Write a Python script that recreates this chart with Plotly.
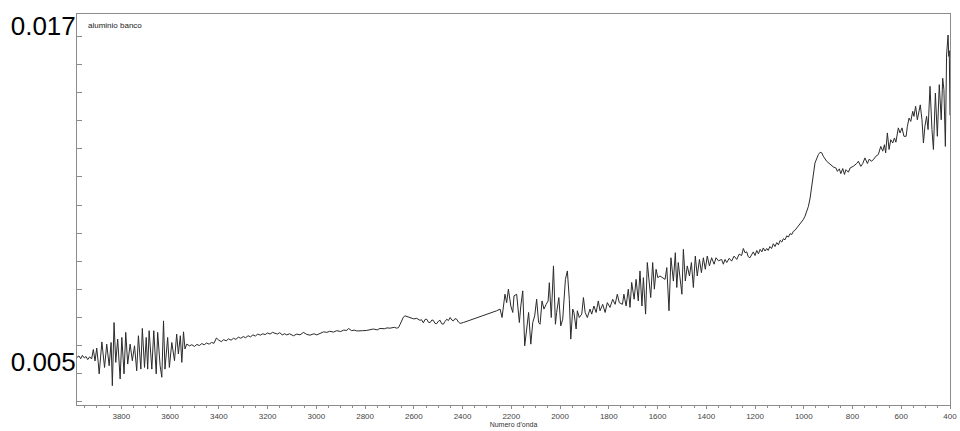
import plotly.graph_objects as go

# Spettro IR: numero d'onda (cm-1) e assorbanza
wavenumber = [
    3982, 3974, 3967, 3960, 3952, 3945, 3938, 3930, 3922, 3915, 3908, 3901, 3895,
    3891, 3880, 3869, 3860, 3850, 3842, 3837, 3830, 3823, 3815, 3805, 3798, 3789,
    3782, 3774, 3764, 3755, 3746, 3737, 3730, 3720, 3714, 3705, 3698, 3692, 3686,
    3675, 3667, 3657, 3651, 3641, 3634, 3627, 3621, 3610, 3603, 3593, 3582, 3573,
    3566, 3558, 3552, 3545, 3539, 3532,
    3520, 3511, 3500, 3490, 3480, 3470, 3460, 3450, 3440, 3430, 3420, 3410, 3400,
    3390, 3380, 3370, 3360, 3350, 3340, 3330, 3320, 3310, 3300, 3290, 3280, 3270,
    3260, 3250, 3240, 3230, 3220, 3210, 3200, 3190, 3180, 3170, 3160, 3150, 3140,
    3130,
    3121, 3110, 3094, 3080, 3067, 3053, 3040, 3026, 3010, 2998, 2985, 2970, 2957,
    2945, 2930, 2916, 2900, 2888, 2875, 2868, 2855, 2845, 2834, 2820, 2810, 2793,
    2780, 2766, 2750, 2739, 2720, 2710, 2698, 2680, 2670, 2663, 2656, 2650, 2643,
    2636, 2625, 2615, 2600, 2588, 2575, 2568, 2561, 2554, 2547, 2540, 2533, 2526,
    2520, 2513, 2506, 2499, 2492, 2486, 2479, 2472, 2465, 2458, 2451, 2444, 2438,
    2431, 2424, 2417, 2410, 2397, 2350, 2300, 2260, 2246,
    2238, 2226, 2219, 2212, 2202, 2194, 2189, 2178, 2172, 2167, 2161, 2153, 2145,
    2137, 2129, 2120, 2112, 2104, 2096, 2088, 2082, 2074, 2066, 2057, 2049, 2044,
    2036, 2027, 2019, 2014, 2005, 1997, 1989, 1978, 1970, 1962, 1956, 1948, 1943,
    1934, 1929, 1921, 1911, 1904, 1897, 1888, 1877, 1870, 1861, 1852, 1843, 1836,
    1825, 1815, 1806, 1795, 1784, 1774, 1765, 1757,
    1744, 1738, 1729, 1720, 1713, 1706, 1696, 1688, 1679, 1672, 1664, 1658, 1649,
    1642, 1634, 1628, 1620, 1613, 1606, 1599, 1590, 1579, 1569, 1562, 1553, 1545,
    1535, 1527, 1521, 1515, 1508, 1500, 1494, 1486, 1478, 1469, 1461, 1453, 1445,
    1437, 1428, 1420, 1412, 1404, 1396, 1387, 1378, 1368, 1360, 1350,
    1337, 1330, 1323, 1316, 1306, 1296, 1286, 1275, 1265, 1255, 1248, 1241, 1234,
    1228, 1221, 1214, 1207, 1200, 1193, 1186, 1179, 1172, 1166, 1159, 1152, 1146,
    1139, 1132, 1125, 1118, 1111, 1104, 1097, 1090, 1084, 1077, 1070, 1063, 1056,
    1049, 1043, 1036, 1029, 1022, 1015, 1008, 1002, 995, 988, 981, 974,
    967, 961, 954, 940, 933, 926, 920, 906, 892, 879, 868, 862, 854, 848, 840, 833,
    827, 817, 810, 797, 783, 776, 766, 758, 749, 739, 731, 723, 714, 704, 694, 684,
    676, 669, 664, 657, 650, 643, 635, 628, 622, 612, 605, 597, 589, 580, 575, 568,
    561, 553, 548, 541, 534, 528, 522, 515, 509, 503, 496, 490, 482, 474, 468, 460,
    452, 444, 436, 430, 425, 419, 414, 408, 405, 403, 400,
]

absorbance = [
    0.00517, 0.00522, 0.00512, 0.00524, 0.00515, 0.00520, 0.00509, 0.00519, 0.00511, 0.00545, 0.00504, 0.00550, 0.00500,
    0.00458, 0.00572, 0.00481, 0.00564, 0.00487, 0.00570, 0.00416, 0.00641, 0.00499, 0.00582, 0.00440, 0.00588, 0.00458,
    0.00606, 0.00493, 0.00564, 0.00505, 0.00558, 0.00469, 0.00594, 0.00475, 0.00620, 0.00481, 0.00588, 0.00475, 0.00612,
    0.00475, 0.00612, 0.00458, 0.00606, 0.00487, 0.00446, 0.00647, 0.00475, 0.00588, 0.00481, 0.00570, 0.00505, 0.00600,
    0.00529, 0.00594, 0.00499, 0.00608, 0.00547, 0.00564,
    0.00558, 0.00562, 0.00556, 0.00563, 0.00559, 0.00566, 0.00562, 0.00568, 0.00564, 0.00570, 0.00567, 0.00586, 0.00578,
    0.00573, 0.00580, 0.00576, 0.00583, 0.00578, 0.00585, 0.00581, 0.00589, 0.00585, 0.00591, 0.00587, 0.00594, 0.00590,
    0.00597, 0.00593, 0.00600, 0.00596, 0.00601, 0.00598, 0.00604, 0.00600, 0.00606, 0.00603, 0.00600, 0.00605, 0.00597,
    0.00601,
    0.00597, 0.00601, 0.00594, 0.00600, 0.00597, 0.00606, 0.00599, 0.00596, 0.00601, 0.00597, 0.00602, 0.00608, 0.00606,
    0.00610, 0.00607, 0.00612, 0.00609, 0.00614, 0.00613, 0.00620, 0.00612, 0.00614, 0.00611, 0.00613, 0.00612, 0.00613,
    0.00616, 0.00618, 0.00615, 0.00620, 0.00619, 0.00622, 0.00621, 0.00624, 0.00621, 0.00623, 0.00635, 0.00647, 0.00660,
    0.00665, 0.00661, 0.00660, 0.00654, 0.00656, 0.00649, 0.00651, 0.00640, 0.00652, 0.00653, 0.00642, 0.00641, 0.00650,
    0.00649, 0.00638, 0.00637, 0.00646, 0.00649, 0.00637, 0.00635, 0.00645, 0.00653, 0.00648, 0.00659, 0.00650, 0.00647,
    0.00655, 0.00653, 0.00643, 0.00638, 0.00641, 0.00655, 0.00670, 0.00683, 0.00689,
    0.00659, 0.00742, 0.00712, 0.00760, 0.00700, 0.00677, 0.00736, 0.00742, 0.00689, 0.00641, 0.00700, 0.00754, 0.00558,
    0.00629, 0.00677, 0.00564, 0.00641, 0.00665, 0.00724, 0.00641, 0.00635, 0.00718, 0.00689, 0.00706, 0.00718, 0.00783,
    0.00659, 0.00843, 0.00635, 0.00677, 0.00730, 0.00629, 0.00653, 0.00795, 0.00825, 0.00724, 0.00582, 0.00689, 0.00677,
    0.00618, 0.00683, 0.00659, 0.00671, 0.00730, 0.00677, 0.00659, 0.00689, 0.00671, 0.00700, 0.00677, 0.00718, 0.00683,
    0.00706, 0.00677, 0.00712, 0.00695, 0.00724, 0.00706, 0.00742, 0.00712,
    0.00706, 0.00742, 0.00700, 0.00760, 0.00695, 0.00784, 0.00724, 0.00795, 0.00718, 0.00825, 0.00700, 0.00801, 0.00671,
    0.00855, 0.00772, 0.00730, 0.00855, 0.00760, 0.00831, 0.00801, 0.00807, 0.00801, 0.00795, 0.00837, 0.00683, 0.00872,
    0.00789, 0.00890, 0.00766, 0.00855, 0.00807, 0.00742, 0.00902, 0.00789, 0.00843, 0.00807, 0.00855, 0.00766, 0.00878,
    0.00807, 0.00866, 0.00819, 0.00872, 0.00831, 0.00878, 0.00843, 0.00872, 0.00849, 0.00872, 0.00861,
    0.00866, 0.00849, 0.00866, 0.00855, 0.00870, 0.00860, 0.00878, 0.00866, 0.00885, 0.00880, 0.00905, 0.00890, 0.00893,
    0.00876, 0.00872, 0.00884, 0.00893, 0.00880, 0.00898, 0.00886, 0.00902, 0.00893, 0.00907, 0.00896, 0.00905, 0.00898,
    0.00912, 0.00905, 0.00922, 0.00912, 0.00926, 0.00918, 0.00934, 0.00928, 0.00940, 0.00936, 0.00950, 0.00946, 0.00958,
    0.00955, 0.00966, 0.00970, 0.00978, 0.00985, 0.00995, 0.01000, 0.01008, 0.01020, 0.01035, 0.01055, 0.01085,
    0.01127, 0.01175, 0.01210, 0.01240, 0.01248, 0.01246, 0.01234, 0.01216, 0.01204, 0.01196, 0.01192, 0.01180, 0.01189, 0.01172, 0.01190, 0.01169,
    0.01186, 0.01177, 0.01192, 0.01198, 0.01208, 0.01216, 0.01198, 0.01208, 0.01228, 0.01208, 0.01224, 0.01216, 0.01222, 0.01234, 0.01240, 0.01269,
    0.01252, 0.01275, 0.01246, 0.01317, 0.01258, 0.01293, 0.01281, 0.01299, 0.01284, 0.01335, 0.01317, 0.01335, 0.01305, 0.01305, 0.01340, 0.01370,
    0.01358, 0.01394, 0.01376, 0.01412, 0.01364, 0.01394, 0.01417, 0.01364, 0.01281, 0.01340, 0.01376, 0.01329, 0.01483, 0.01329, 0.01258, 0.01459,
    0.01305, 0.01489, 0.01364, 0.01512, 0.01471, 0.01269, 0.01595, 0.01666, 0.01590, 0.01610, 0.01380,
]

x_tick_values = [3800, 3600, 3400, 3200, 3000, 2800, 2600, 2400, 2200, 2000,
                 1800, 1600, 1400, 1200, 1000, 800, 600, 400]
y_tick_values = [0.005, 0.017]
y_tick_labels = ["0.005", "0.017"]

sample_name = "aluminio banco"
x_title = "Numero d'onda"

frame_color = "#8c8c8c"
font_family = "Liberation Sans, Arial, sans-serif"

fig = go.Figure()
fig.add_trace(go.Scatter(
    x=wavenumber,
    y=absorbance,
    mode="lines",
    line=dict(color="#2b2b2b", width=1),
    hoverinfo="skip",
    showlegend=False,
))

fig.update_layout(
    width=960,
    height=431,
    margin=dict(l=77, r=10, t=14, b=26),
    paper_bgcolor="white",
    plot_bgcolor="white",
    font=dict(family=font_family, color="#333333"),
    xaxis=dict(
        range=[3982, 400],
        automargin=False,
        showgrid=False,
        zeroline=False,
        showline=True,
        linecolor=frame_color,
        linewidth=1,
        mirror=True,
        tickmode="array",
        tickvals=x_tick_values,
        ticks="outside",
        ticklen=3,
        tickcolor=frame_color,
        tickfont=dict(size=8, color="#444444"),
        minor=dict(dtick=50, tick0=400, ticks="outside", ticklen=2, tickcolor=frame_color),
        title=dict(text=x_title, font=dict(size=7, color="#333333"), standoff=2),
    ),
    yaxis=dict(
        range=[0.003471, 0.017410],
        automargin=False,
        showgrid=False,
        zeroline=False,
        showline=True,
        linecolor=frame_color,
        linewidth=1,
        mirror=True,
        tickmode="array",
        tickvals=y_tick_values,
        ticktext=y_tick_labels,
        ticks="",
        tickfont=dict(size=26, color="#000000", family=font_family),
        ticklabelstandoff=-5,
        minor=dict(tick0=0.0006, dtick=0.001, ticks="inside", ticklen=5, tickcolor=frame_color),
    ),
)

fig.add_annotation(
    text=sample_name,
    xref="paper", yref="paper",
    x=0.0105, y=0.97,
    xanchor="left", yanchor="middle",
    showarrow=False,
    font=dict(size=8, color="#222222", family=font_family),
)

fig.write_html("out.html")
